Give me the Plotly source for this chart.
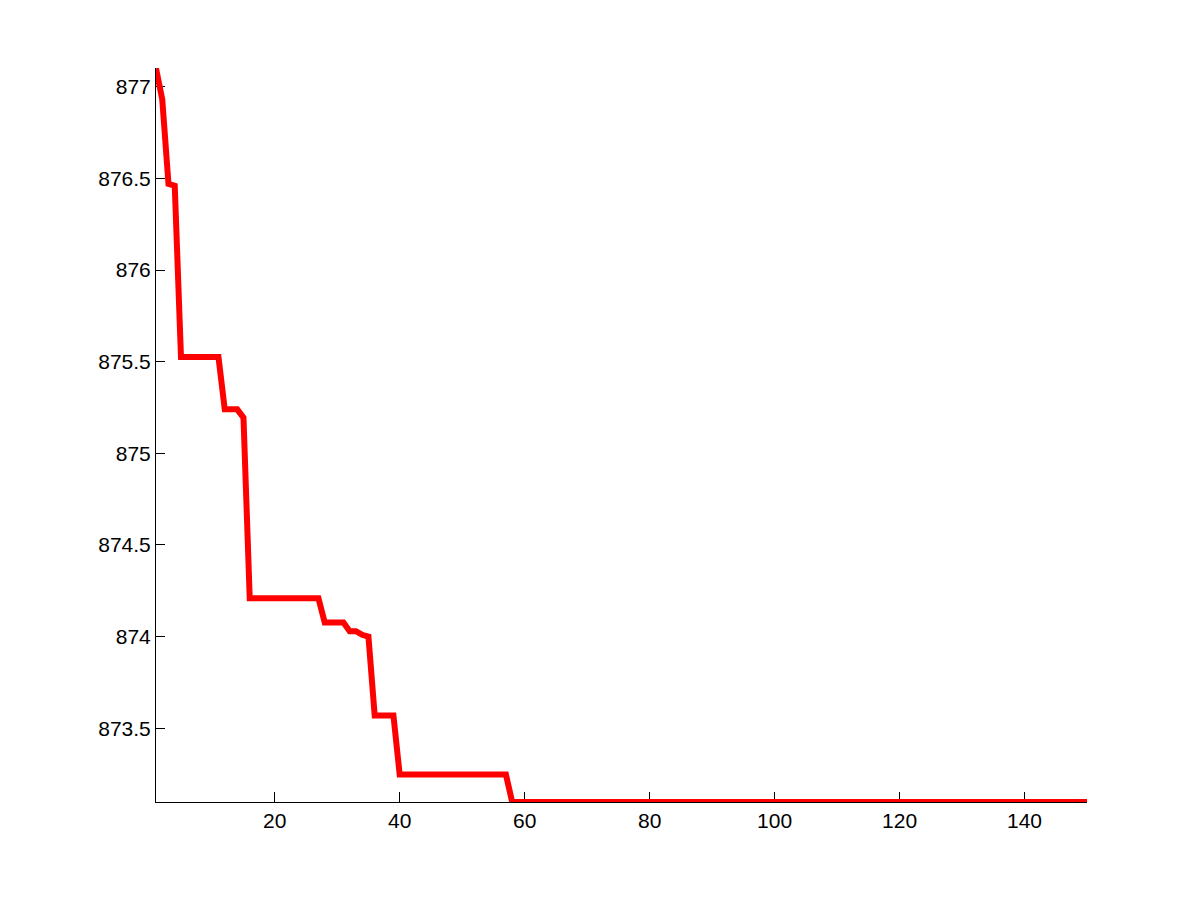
import plotly.graph_objects as go

# Iteration index and best objective value
x_vals = list(range(1, 151))

y_head = [877.10, 876.93, 876.47, 876.46,
          875.525, 875.525, 875.525, 875.525, 875.525, 875.525, 875.525,
          875.24, 875.24, 875.24, 875.195,
          874.21, 874.21, 874.21, 874.21, 874.21, 874.21, 874.21, 874.21, 874.21, 874.21, 874.21, 874.21,
          874.077, 874.077, 874.077, 874.077,
          874.03, 874.03, 874.01, 874.00,
          873.57, 873.57, 873.57, 873.57,
          873.248, 873.248, 873.248, 873.248, 873.248, 873.248, 873.248, 873.248, 873.248,
          873.248, 873.248, 873.248, 873.248, 873.248, 873.248, 873.248, 873.248, 873.248]
y_tail_value = 873.098
y_vals = y_head + [y_tail_value] * (len(x_vals) - len(y_head))

x_ticks = [20, 40, 60, 80, 100, 120, 140]
y_ticks = [873.5, 874, 874.5, 875, 875.5, 876, 876.5, 877]
y_tick_text = ["873.5", "874", "874.5", "875", "875.5", "876", "876.5", "877"]

fig = go.Figure()
fig.add_trace(go.Scatter(
    x=x_vals, y=y_vals, mode="lines",
    line=dict(color="#ff0000", width=6),
    showlegend=False,
))

axis_font = dict(family="Liberation Sans, Arial, sans-serif", size=21, color="black")

fig.update_layout(
    width=1185, height=885,
    margin=dict(l=148, r=106, t=60, b=91, pad=0),
    paper_bgcolor="white", plot_bgcolor="white",
    xaxis=dict(
        range=[1, 150], tickvals=x_ticks,
        ticks="inside", ticklen=10, tickwidth=1, tickcolor="black",
        showline=True, linecolor="black", linewidth=1, mirror=False,
        showgrid=False, zeroline=False, tickfont=axis_font,
        layer="below traces",
    ),
    yaxis=dict(
        range=[873.098, 877.102], tickvals=y_ticks, ticktext=y_tick_text,
        ticks="inside", ticklen=9, tickwidth=1, tickcolor="black",
        showline=True, linecolor="black", linewidth=1, mirror=False,
        showgrid=False, zeroline=False, tickfont=axis_font,
        layer="below traces",
    ),
)

fig.write_html("out.html")
